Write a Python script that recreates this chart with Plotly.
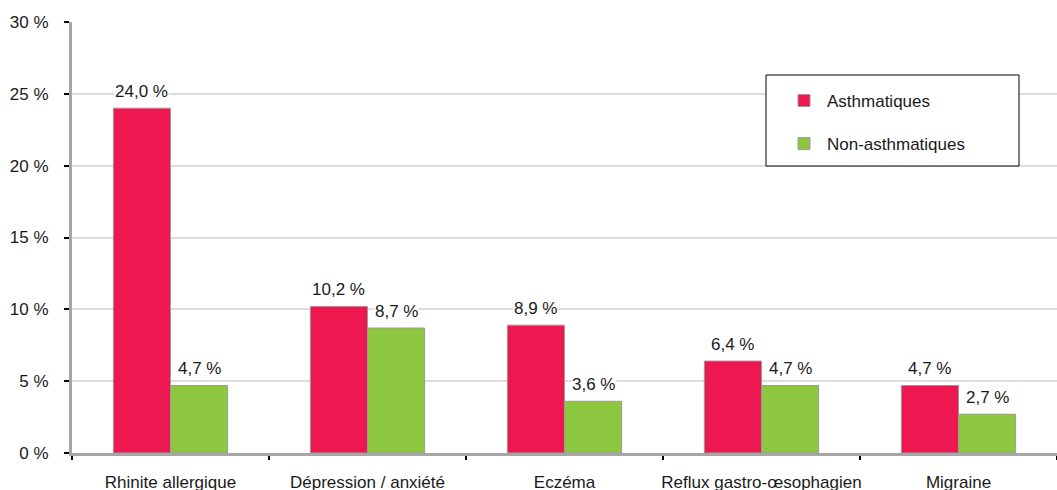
import plotly.graph_objects as go

categories = ["Rhinite allergique", "Dépression / anxiété", "Eczéma",
              "Reflux gastro-œsophagien", "Migraine"]
asthmatiques = [24.0, 10.2, 8.9, 6.4, 4.7]
non_asthmatiques = [4.7, 8.7, 3.6, 4.7, 2.7]
y_ticks = [0, 5, 10, 15, 20, 25, 30]
y_tick_labels = ["0 %", "5 %", "10 %", "15 %", "20 %", "25 %", "30 %"]

W, H = 1057, 490
ML, MR, MT, MB = 72, 0, 22, 37
PW, PH = W - ML - MR, H - MT - MB
BARGAP = 0.42

RED = "#ED1850"
GREEN = "#8DC63F"
FONT = "Liberation Sans, Arial, sans-serif"
FS = 17
TXT = "#1a1a1a"

def px_x(x):
    return (x - ML) / PW

def px_y(y):
    return (H - MB - y) / PH

def fmt(v):
    return f"{v:.1f}".replace(".", ",") + " %"

series = [("Asthmatiques", asthmatiques, RED),
          ("Non-asthmatiques", non_asthmatiques, GREEN)]

fig = go.Figure()
for name, vals, color in series:
    fig.add_trace(go.Bar(
        name=name, x=categories, y=vals,
        marker=dict(color=color, line=dict(color="#9a9a9a", width=1)),
        legendgroup=name, hoverinfo="x+y",
    ))

# value labels centred over each bar of a group, on a white backing
bar_px = PW / len(categories) * (1 - BARGAP) / len(series)
annotations = []
for i, (name, vals, color) in enumerate(series):
    offset = (i - (len(series) - 1) / 2) * bar_px
    for cat, v in zip(categories, vals):
        annotations.append(dict(
            x=cat, y=v, xref="x", yref="y", text=fmt(v),
            showarrow=False, xanchor="center", yanchor="bottom",
            xshift=offset, yshift=6, bgcolor="white", borderpad=0,
            font=dict(family=FONT, size=FS, color=TXT),
        ))

fig.update_layout(
    width=W, height=H,
    margin=dict(l=ML, r=MR, t=MT, b=MB, autoexpand=False),
    paper_bgcolor="white", plot_bgcolor="white",
    barmode="group", bargap=BARGAP, bargroupgap=0,
    font=dict(family=FONT, size=FS, color=TXT),
    showlegend=True,
    legend=dict(
        x=px_x(781), y=px_y(83), xanchor="left", yanchor="top",
        bgcolor="rgba(0,0,0,0)", borderwidth=0,
        font=dict(family=FONT, size=FS, color=TXT),
        traceorder="grouped", tracegroupgap=18,
        itemwidth=36,
    ),
    annotations=annotations,
    shapes=[dict(
        type="rect", xref="paper", yref="paper",
        x0=px_x(766), x1=px_x(1019), y0=px_y(166), y1=px_y(75),
        line=dict(color="#000000", width=1), fillcolor="white", layer="above",
    )],
)

fig.update_xaxes(
    showgrid=False, showline=True, linecolor="#a6a6a6", linewidth=3,
    ticks="outside", tickson="boundaries", ticklen=4, tickwidth=2,
    tickcolor="#000000", ticklabelstandoff=12, tickangle=0, automargin=False,
    tickfont=dict(family=FONT, size=FS, color=TXT),
)
fig.update_yaxes(
    range=[0, 30], tickvals=y_ticks, ticktext=y_tick_labels,
    showgrid=True, gridcolor="#dcdcdc", gridwidth=2,
    showline=True, linecolor="#a6a6a6", linewidth=3,
    ticks="outside", ticklen=5, tickwidth=2, tickcolor="#000000",
    ticklabelstandoff=12, automargin=False,
    tickfont=dict(family=FONT, size=FS, color=TXT),
    zeroline=False,
)

fig.write_html("out.html")
